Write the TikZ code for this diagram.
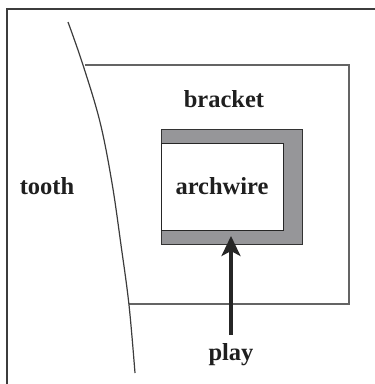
\documentclass[tikz,border=0pt]{standalone}
\usepackage{fontspec}
\setmainfont{Liberation Serif}
\usetikzlibrary{arrows.meta}
\definecolor{framec}{RGB}{60,60,60}
\definecolor{bracketc}{RGB}{100,100,100}
\definecolor{slotfill}{RGB}{150,150,153}
\tikzset{
  lbl/.style={font=\fontsize{24.5}{26}\selectfont\bfseries, text=black!88, inner sep=0pt},
  brk/.style={draw=bracketc, line width=1.3pt},
}
\begin{document}
\begin{tikzpicture}[x=1pt,y=-1pt]
\useasboundingbox (0,0) rectangle (375,384);
% outer frame
\draw[framec, line width=1.4pt] (7,384) -- (7,9) -- (375,9);
% bracket outline
\draw[brk] (85,65) -- (349,65) -- (349,304) -- (129,304);
% tooth surface
\draw[framec, line width=1.2pt] plot[smooth, tension=0.6] coordinates {(68,22) (83,65) (100,122) (112,183) (121,245) (129,305) (135,373)};
% slot
\node[draw=black!80, fill=slotfill, line width=1pt, minimum width=141pt, minimum height=115pt, inner sep=0pt, anchor=north west] (slot) at (161,129) {};
\node[draw=black!85, fill=white, line width=1pt, minimum width=122pt, minimum height=87pt, inner sep=0pt, anchor=north west] (wire) at (161,143) {};
% labels
\node[lbl] (bracket) at (224,99) {bracket};
\node[lbl] (archwire) at (222,186) {archwire};
\node[lbl] (tooth) at (47,186) {tooth};
\node[lbl] (play) at (231,355) {play};
% arrow
\coordinate (tail) at (231,335);
\coordinate (tip) at (231,236);
\draw[line width=3.2pt, black!85, -{Stealth[length=20pt,width=19pt,inset=5pt]}] (tail) -- (tip);
\end{tikzpicture}
\end{document}
